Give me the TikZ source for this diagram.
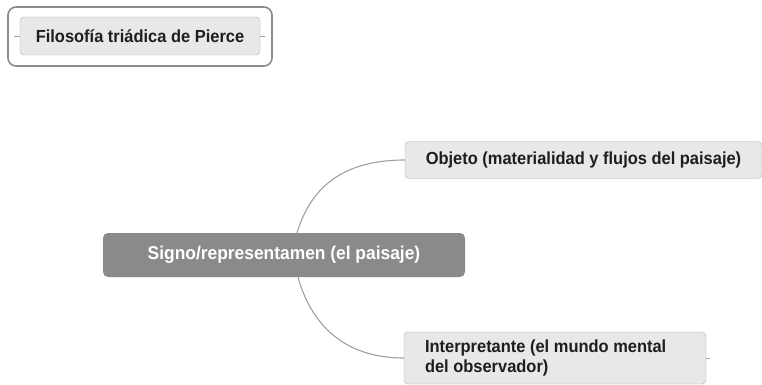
\documentclass[tikz,border=0pt]{standalone}
\usepackage{fontspec}
\setmainfont{Liberation Sans}[FakeStretch=0.94]
\usetikzlibrary{positioning}
\definecolor{MapLine}{RGB}{160,160,160}
\definecolor{MapBox}{RGB}{232,232,232}
\definecolor{MapEdge}{RGB}{175,175,175}
\definecolor{MapMain}{RGB}{138,138,138}
\definecolor{MapText}{RGB}{30,30,30}

\begin{document}
\begin{tikzpicture}[x=1pt,y=-1pt,
  sub/.style={draw=MapEdge,fill=MapBox,rounded corners=4pt,text=MapText,font=\bfseries\fontsize{17.5}{20}\selectfont,inner sep=0pt},
  main/.style={fill=MapMain,rounded corners=5pt,text=white,font=\bfseries\fontsize{18.5}{20}\selectfont,inner sep=0pt,minimum width=362pt,minimum height=44pt},
  link/.style={draw=MapLine,line width=1.1pt}]
\useasboundingbox (0,0) rectangle (762,385);
\draw[draw=black!45,line width=1.6pt,rounded corners=8pt,fill=white] (8,7) rectangle (272,66);
\node[sub,minimum width=240pt,minimum height=38pt](title) at(140,36) {Filosofía triádica de Pierce};
\coordinate (tl) at (14,36);
\coordinate (tr) at (265,36);
\draw[link,line width=0.6pt] (title.west) -- (tl);
\draw[link,line width=0.6pt] (title.east) -- (tr);
\node[main](sign) at(284,255) {Signo/representamen (el paisaje)};
\node[sub,minimum width=357pt,minimum height=37pt](obj) at(583.5,160) {Objeto (materialidad y flujos del paisaje)};
\node[sub,minimum width=302pt,minimum height=52pt,align=flush left,text width=260pt](intp) at(555,358) {Interpretante (el mundo mental\\del observador)};
\coordinate (ir) at (710,358);
\draw[link] ([xshift=13pt]sign.north) .. controls (310,190) and (340,160) .. (obj.west);
\draw[link] ([xshift=14pt]sign.south) .. controls (310,320) and (340,358) .. (intp.west);
\draw[link,line width=0.6pt] (intp.east) -- (ir);
\end{tikzpicture}
\end{document}
